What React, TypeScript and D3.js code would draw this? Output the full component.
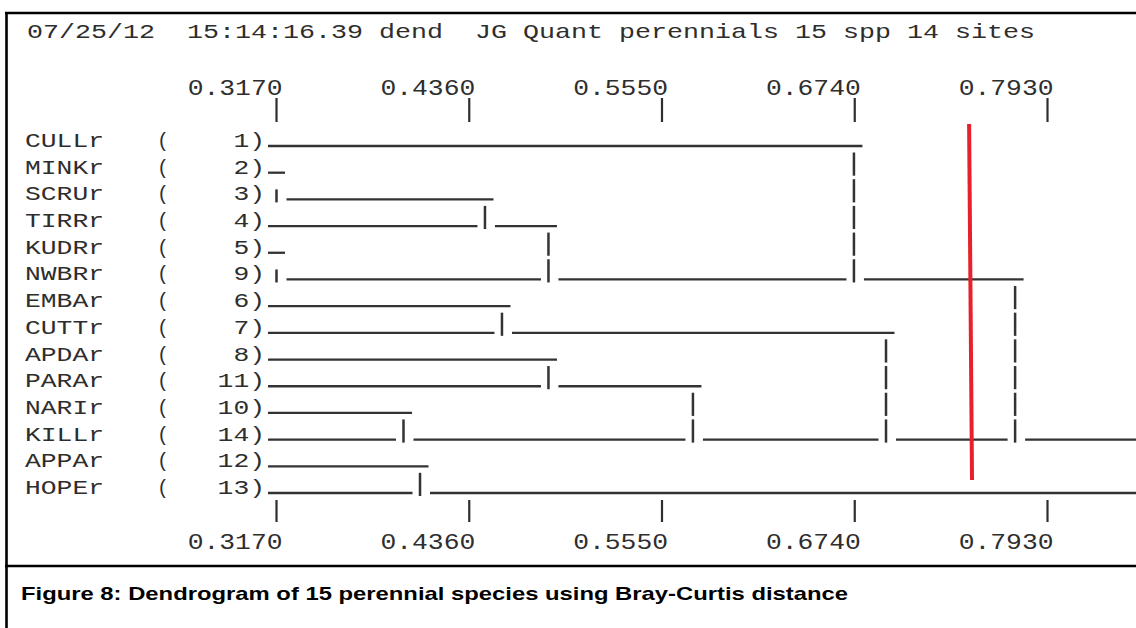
import React from 'react';
import * as d3 from 'd3';

const W = 1136;
const H = 628;

const headerText = '07/25/12  15:14:16.39 dend  JG Quant perennials 15 spp 14 sites';
const captionText = 'Figure 8: Dendrogram of 15 perennial species using Bray-Curtis distance';

const rowNames = ['CULLr', 'MINKr', 'SCRUr', 'TIRRr', 'KUDRr', 'NWBRr', 'EMBAr', 'CUTTr', 'APDAr', 'PARAr', 'NARIr', 'KILLr', 'APPAr', 'HOPEr'];
const rowIds = [1, 2, 3, 4, 5, 9, 6, 7, 8, 11, 10, 14, 12, 13];

const tickValues = [0.317, 0.436, 0.555, 0.674, 0.793];
const tickLabels = ['0.3170', '0.4360', '0.5550', '0.6740', '0.7930'];

// merges: upper row index, lower row index, fusion distance
const mergeUpper = [1, 4, 10, 12, 2, 6, 3, 8, 9, 0, 7, 5, 11];
const mergeLower = [2, 5, 11, 13, 3, 7, 5, 9, 11, 5, 11, 11, 13];
const mergeHeight = [0.317, 0.317, 0.3954, 0.4056, 0.4457, 0.4562, 0.4849, 0.4849, 0.5741, 0.6735, 0.6933, 0.773, 0.86];

// red cut line (value at top, value at bottom)
const cutLine = [0.7446, 0.7464];

const MONO = "'Liberation Mono', 'DejaVu Sans Mono', monospace";
const CW = 15.8;
const INK = '#2e2e2e';

export default function App() {
  const x = d3.scaleLinear().domain([0.317, 0.793]).range([276.5, 1047.5]);
  const y = d3.scalePoint<string>().domain(rowNames).range([146, 493]);
  const yi = (i: number) => y(rowNames[i]) as number;

  const leafX = 268;
  const hSegs: { x1: number; x2: number; y: number }[] = [];
  rowNames.forEach((_, r) => {
    let start = leafX;
    const lowers = mergeHeight
      .map((h, i) => ({ h, i }))
      .filter((m) => mergeLower[m.i] === r)
      .sort((a, b) => a.h - b.h);
    lowers.forEach((m) => {
      const bx = x(m.h);
      if (bx - 7.5 - start > 2) hSegs.push({ x1: start, x2: Math.min(bx - 7.5, W), y: yi(r) });
      start = bx + 10;
    });
    const upIdx = mergeUpper.indexOf(r);
    const end = upIdx >= 0 ? x(mergeHeight[upIdx]) + 8.5 : W;
    if (Math.min(end, W) - start > 2) hSegs.push({ x1: start, x2: Math.min(end, W), y: yi(r) });
  });

  const vSegs: { x: number; y1: number; y2: number }[] = [];
  const minV = x.domain()[0];
  mergeHeight.forEach((h, i) => {
    const bx = x(h);
    if (bx > W) return;
    for (let k = mergeUpper[i] + 1; k <= mergeLower[i]; k++) {
      const top = h <= minV ? yi(k) - 10 : yi(k - 1) + 6.5;
      vSegs.push({ x: bx, y1: top, y2: yi(k) + 3 });
    }
  });

  return (
    <svg
      width={W}
      height={H}
      style={{ position: 'absolute', left: 0, top: 0, background: '#fff' }}
    >
      <rect x={0} y={0} width={W} height={H} fill="#fff" />
      {/* frame */}
      <line x1={5} x2={W} y1={13} y2={13} stroke="#000" strokeWidth={2.6} />
      <line x1={6.5} x2={6.5} y1={12} y2={H} stroke="#000" strokeWidth={2.6} />
      <line x1={5} x2={W} y1={566} y2={566} stroke="#000" strokeWidth={2.6} />

      {/* header */}
      <text
        x={27}
        y={38}
        fontFamily={MONO}
        fontSize={21}
        fill={INK}
        textLength={headerText.length * 16}
        lengthAdjust="spacingAndGlyphs"
        style={{ whiteSpace: 'pre' }}
        xmlSpace="preserve"
      >
        {headerText}
      </text>

      {/* axes top & bottom */}
      {tickValues.map((v, i) => (
        <g key={'t' + i}>
          <text
            x={x(v) + 6 - tickLabels[i].length * CW}
            y={95}
            fontFamily={MONO}
            fontSize={21.5}
            fill={INK}
            textLength={tickLabels[i].length * CW}
            lengthAdjust="spacingAndGlyphs"
          >
            {tickLabels[i]}
          </text>
          <line x1={x(v)} x2={x(v)} y1={98} y2={122} stroke={INK} strokeWidth={2.2} />
          <line x1={x(v)} x2={x(v)} y1={500} y2={522} stroke={INK} strokeWidth={2.2} />
          <text
            x={x(v) + 6 - tickLabels[i].length * CW}
            y={549}
            fontFamily={MONO}
            fontSize={21.5}
            fill={INK}
            textLength={tickLabels[i].length * CW}
            lengthAdjust="spacingAndGlyphs"
          >
            {tickLabels[i]}
          </text>
        </g>
      ))}

      {/* row labels */}
      {rowNames.map((name, r) => {
        const numStr = `${rowIds[r]})`;
        return (
          <g key={name} fontFamily={MONO} fontSize={20} fill={INK}>
            <text x={25} y={yi(r) + 1} textLength={name.length * CW} lengthAdjust="spacingAndGlyphs">
              {name}
            </text>
            <text x={163} y={yi(r) + 1} textAnchor="middle">
              (
            </text>
            <text
              x={265 - numStr.length * CW}
              y={yi(r) + 1}
              textLength={numStr.length * CW}
              lengthAdjust="spacingAndGlyphs"
            >
              {numStr}
            </text>
          </g>
        );
      })}

      {/* dendrogram */}
      {hSegs.map((s, i) => (
        <line key={'h' + i} x1={s.x1} x2={s.x2} y1={s.y} y2={s.y} stroke="#333" strokeWidth={2.3} />
      ))}
      {vSegs.map((s, i) => (
        <line key={'v' + i} x1={s.x} x2={s.x} y1={s.y1} y2={s.y2} stroke="#333" strokeWidth={2.5} />
      ))}

      {/* red cut line */}
      <line
        x1={x(cutLine[0])}
        x2={x(cutLine[1])}
        y1={124}
        y2={480}
        stroke="#e8202a"
        strokeWidth={4}
      />

      {/* caption */}
      <text
        x={21}
        y={600}
        fontFamily="'Liberation Sans', Arial, sans-serif"
        fontWeight="bold"
        fontSize={19}
        fill="#000"
        textLength={827}
        lengthAdjust="spacingAndGlyphs"
      >
        {captionText}
      </text>
    </svg>
  );
}
